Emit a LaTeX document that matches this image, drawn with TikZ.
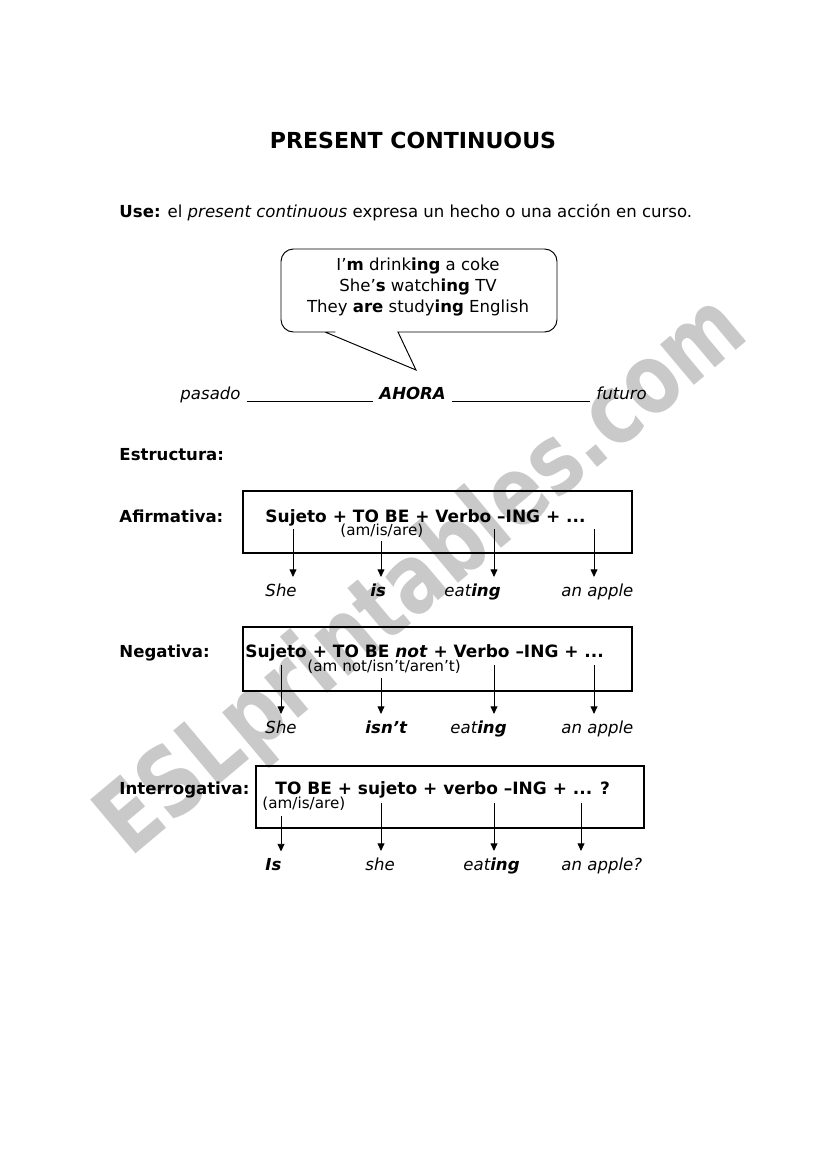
\documentclass[tikz,border=0pt]{standalone}
\usepackage{fontspec}
\setmainfont{DejaVu Sans}
\usetikzlibrary{arrows.meta, calc}
\definecolor{wmgrey}{HTML}{C9C9C9}
\tikzset{
  every picture/.style={x=0.7247pt, y=-0.7247pt, line width=0.7pt},
  txt/.style={font=\fontsize{12}{15}\selectfont, anchor=base west, inner sep=0pt},
  lab/.style={txt, font=\fontsize{12}{15}\selectfont\bfseries},
  frm/.style={txt, font=\fontsize{12.3}{15}\selectfont\bfseries},
  small/.style={txt, font=\fontsize{11}{13}\selectfont},
  wrd/.style={txt, font=\fontsize{12}{15}\selectfont\itshape},
  frame/.style={draw, line width=0.9pt},
  arr/.style={-{Triangle[length=5.5pt, width=5pt]}, line width=0.6pt},
}

\begin{document}
\begin{tikzpicture}[
  title/.style={font=\fontsize{16}{19}\selectfont\bfseries, anchor=base, inner sep=0pt},
  wmark/.style={font=\fontsize{70}{72}\selectfont\bfseries, text=wmgrey, rotate=40}]
  \useasboundingbox (0,0) rectangle (821,1169);
  \node[wmark] (wm) at (424,578) {\scalebox{0.8}[1]{ESLprintables.com}};

  \node[title] (ttl) at (413,148) {PRESENT CONTINUOUS};
  \node[txt] (use) at (119,217) {\textbf{Use:} el \textit{present continuous} expresa un hecho o una acción en curso.};

  % speech bubble
  \node[font=\fontsize{12}{14.9}\selectfont, align=center, inner sep=0pt] (bubble) at (418,287)
    {I’\textbf{m} drink\textbf{ing} a coke\\She’\textbf{s} watch\textbf{ing} TV\\They \textbf{are} study\textbf{ing} English};
  \draw (416,370) -- (398,332) -- (400,332) [rounded corners=9pt] -- (557,332) -- (557,249)
    -- (281,249) -- (281,332) -- (323,332) [sharp corners] -- (325,332) -- cycle;

  % time line
  \node[txt, font=\fontsize{12}{15}\selectfont\itshape] (past) at (180,399) {pasado};
  \node[txt, font=\fontsize{12}{15}\selectfont\bfseries\itshape] (now) at (379,399) {AHORA};
  \node[txt, font=\fontsize{12}{15}\selectfont\itshape] (fut) at (596,399) {futuro};
  \draw[line width=0.6pt] ([xshift=4pt, yshift=-1.5pt]past.base east) -- ([xshift=-4pt, yshift=-1.5pt]now.base west);
  \draw[line width=0.6pt] ([xshift=4pt, yshift=-1.5pt]now.base east) -- ([xshift=-4pt, yshift=-1.5pt]fut.base west);

  \node[lab] (est) at (119,460) {Estructura:};

  % afirmativa
  \node[lab] (afl) at (119,522) {Afirmativa:};
  \draw[frame] (243,491) rectangle (632,553);
  \node[frm] (aff) at (265,522) {Sujeto + TO BE + Verbo –ING + ...};
  \node[small] (afs) at (340,535.5) {(am/is/are)};
  \node[wrd] (af1) at (265,596) {She};
  \node[wrd] (af2) at (370,596) {\textbf{is}};
  \node[wrd] (af3) at (444,596) {eat\textbf{ing}};
  \node[wrd] (af4) at (561,596) {an apple};

  % negativa
  \node[lab] (ngl) at (119,657) {Negativa:};
  \draw[frame] (243,627) rectangle (632,691);
  \node[frm] (ngf) at (245,657) {Sujeto + TO BE \textit{not} + Verbo –ING + ...};
  \node[small] (ngs) at (307,671.5) {(am not/isn’t/aren’t)};
  \node[wrd] (ng1) at (265,733) {She};
  \node[wrd] (ng2) at (365,733) {\textbf{isn’t}};
  \node[wrd] (ng3) at (450,733) {eat\textbf{ing}};
  \node[wrd] (ng4) at (561,733) {an apple};

  % interrogativa
  \node[lab] (inl) at (119,794) {Interrogativa:};
  \draw[frame] (256,766) rectangle (644,828);
  \node[frm] (inf) at (275,794) {TO BE + sujeto + verbo –ING + ... ?};
  \node[small] (ins) at (262,808) {(am/is/are)};
  \node[wrd] (in1) at (265,870) {\textbf{Is}};
  \node[wrd] (in2) at (365,870) {she};
  \node[wrd] (in3) at (463,870) {eat\textbf{ing}};
  \node[wrd] (in4) at (561,870) {an apple?};

  \foreach \n/\x/\y/\w in {a1/293/529/af1, a2/381/541/af2, a3/494/529/af3, a4/594/529/af4,
                           b1/281/665/ng1, b2/381/678/ng2, b3/494/665/ng3, b4/594/665/ng4,
                           c1/281/816/in1, c2/381/803/in2, c3/494/803/in3, c4/581/803/in4} {
    \coordinate (\n) at (\x,\y);
    \draw[arr] (\n) -- ($(\n |- \w.north)+(0,-6)$);
  }
\end{tikzpicture}
\end{document}
